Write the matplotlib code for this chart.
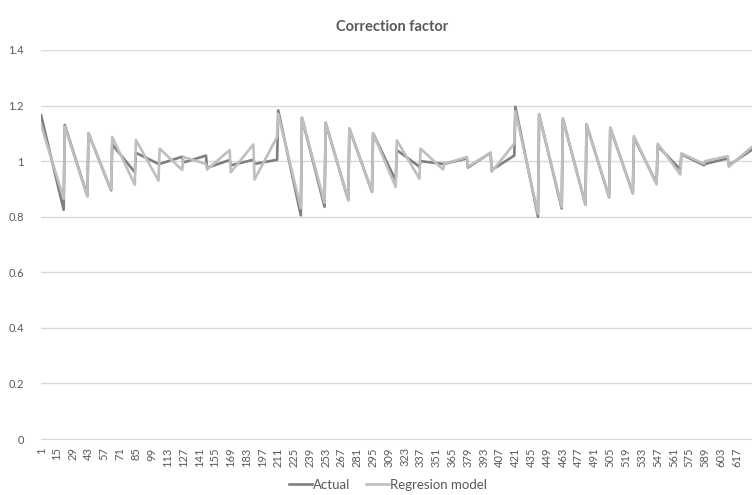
import numpy as np
import matplotlib.pyplot as plt

plt.rcParams['font.family'] = ['Lato', 'DejaVu Sans']

# categories: 630 observations, sawtooth sub-periods of 21 points
n_points = 630
period_start = np.arange(1, n_points + 1, 21)   # first category of each sub-period
period_len = 20                                  # last category = start + 20

# value at the start / end of each sub-period (30 sub-periods)
actual_start = [1.165, 1.13, 1.10, 1.06, 1.03, 0.99, 0.995, 0.976, 0.985, 0.99,
                1.183, 1.156, 1.138, 1.117, 1.10, 1.04, 1.0, 0.99, 0.977, 0.968,
                1.195, 1.168, 1.153, 1.132, 1.12, 1.085, 1.055, 1.025, 0.99, 0.985]
actual_end = [0.825, 0.875, 0.895, 0.96, 0.99, 1.016, 1.02, 1.004, 1.005, 1.005,
              0.805, 0.836, 0.86, 0.89, 0.93, 0.98, 0.99, 1.01, 1.03, 1.02,
              0.80, 0.83, 0.844, 0.87, 0.884, 0.92, 0.97, 0.985, 1.01, 1.04]

model_start = [1.13, 1.125, 1.10, 1.087, 1.076, 1.045, 1.015, 0.97, 0.96, 0.934,
               1.17, 1.156, 1.138, 1.117, 1.10, 1.075, 1.045, 0.99, 0.98, 0.962,
               1.18, 1.168, 1.153, 1.132, 1.12, 1.09, 1.063, 1.028, 1.0, 0.98]
model_end = [0.865, 0.872, 0.898, 0.915, 0.93, 0.968, 0.99, 1.04, 1.06, 1.087,
             0.83, 0.85, 0.86, 0.89, 0.907, 0.937, 0.97, 1.015, 1.03, 1.063,
             0.81, 0.835, 0.844, 0.87, 0.884, 0.916, 0.952, 0.99, 1.018, 1.05]

tick_cats = np.arange(1, n_points + 1, 14)


def vertices(starts, ends):
    xs, ys = [], []
    for s, a, b in zip(period_start, starts, ends):
        xs += [s, min(s + period_len, n_points)]
        ys += [a, b]
    return xs, ys


W, H = 752, 495
fig = plt.figure(figsize=(W / 100, H / 100), dpi=100)
ax = fig.add_axes([40.5 / W, (H - 439) / H, (W - 40.5) / W, (439 - 50) / H])

grid_c = '#d9d9d9'
text_c = '#595959'

xa, ya = vertices(actual_start, actual_end)
xm, ym = vertices(model_start, model_end)
ax.plot(xa, ya, color='#7f7f7f', lw=1.9, solid_joinstyle='round', label='Actual', zorder=3)
ax.plot(xm, ym, color='#bfbfbf', lw=1.9, solid_joinstyle='round', label='Regresion model', zorder=4)

ax.set_xlim(0.5, n_points + 0.5)
ax.set_ylim(0, 1.4)
ax.set_yticks(np.arange(0, 1.41, 0.2))
ax.set_yticklabels(['0', '0.2', '0.4', '0.6', '0.8', '1', '1.2', '1.4'])
ax.set_xticks(tick_cats)
ax.set_xticklabels([str(c) for c in tick_cats], rotation=90)
ax.yaxis.grid(True, color=grid_c, lw=1)
ax.set_axisbelow(True)
for side in ['top', 'right', 'left']:
    ax.spines[side].set_visible(False)
ax.spines['bottom'].set_color(grid_c)
ax.tick_params(axis='both', length=0, labelsize=8, colors=text_c)
ax.tick_params(axis='y', pad=12)
ax.tick_params(axis='x', pad=6)

fig.text(392 / W, 1 - 27 / H, 'Correction factor', ha='center', va='center',
         fontsize=10.5, fontweight='bold', color=text_c)

fig.legend(loc='center', bbox_to_anchor=(388 / W, 1 - 485 / H), ncol=2, frameon=False,
           fontsize=9.5, handlelength=1.7, handletextpad=0.1, columnspacing=1.2,
           labelcolor=text_c)

fig.savefig('out.png', dpi=100)
